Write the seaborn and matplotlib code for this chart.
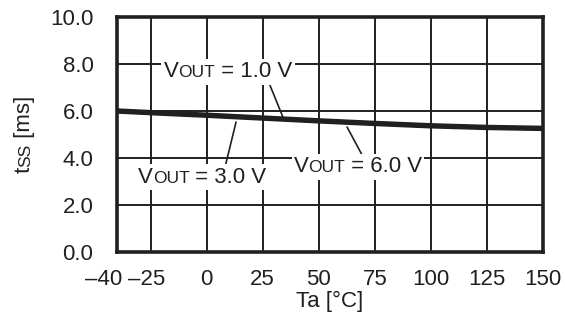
import matplotlib
matplotlib.use("Agg")
import matplotlib.pyplot as plt
import matplotlib.transforms as mtransforms
import seaborn as sns
import pandas as pd
from matplotlib.offsetbox import TextArea, HPacker, AnnotationBbox

# ---- data ----
temps = [-40, -25, 0, 25, 50, 75, 100, 125, 150]
tss_1v0 = [6.03, 5.96, 5.85, 5.73, 5.61, 5.50, 5.40, 5.33, 5.29]
tss_3v0 = [6.00, 5.93, 5.82, 5.70, 5.58, 5.47, 5.37, 5.30, 5.26]
tss_6v0 = [5.97, 5.90, 5.79, 5.67, 5.55, 5.44, 5.34, 5.27, 5.23]
series_names = ["1.0", "3.0", "6.0"]
x_ticks = [-40, -25, 0, 25, 50, 75, 100, 125, 150]
y_ticks = [0.0, 2.0, 4.0, 6.0, 8.0, 10.0]

# label placement (box center) and leader line (start, end) in data coords
label_pos = {"1.0": (9.5, 7.66), "3.0": (-2.0, 3.19), "6.0": (67.5, 3.62)}
leaders = {"1.0": ((28.2, 7.1), (34.0, 5.74)),
           "3.0": ((13.1, 5.53), (8.2, 3.62)),
           "6.0": ((62.6, 5.32), (69.3, 4.13))}

INK = "#231f20"
FS = 16
FS_SMALL = 12.5

sns.set_style("white")
plt.rcParams["font.family"] = ["Liberation Sans", "DejaVu Sans"]

df = pd.DataFrame({
    "Ta": temps * 3,
    "tss": tss_1v0 + tss_3v0 + tss_6v0,
    "Vout": sum([[n] * len(temps) for n in series_names], []),
})

fig = plt.figure(figsize=(5.65, 3.22), dpi=100)
ax = fig.add_axes([117 / 565, 1 - 252 / 322, (543 - 117) / 565, (252 - 17) / 322])

sns.lineplot(data=df, x="Ta", y="tss", units="Vout", estimator=None,
             color=INK, lw=2.9, ax=ax, zorder=3, legend=False)

ax.set_xlim(-40, 150)
ax.set_ylim(0, 10)
ax.set_xticks(x_ticks)
ax.set_xticklabels([("\u2013" + str(abs(t))) if t < 0 else str(t) for t in x_ticks])
ax.set_yticks(y_ticks)
ax.set_yticklabels([f"{v:.1f}" for v in y_ticks])
ax.tick_params(axis="both", length=0, labelsize=FS, colors=INK)
ax.tick_params(axis="y", pad=17)
ax.tick_params(axis="x", pad=12)
ax.grid(True, color=INK, lw=1.4, zorder=0.5)
ax.set_axisbelow(True)
for s in ax.spines.values():
    s.set_visible(True)
    s.set_color(INK)
    s.set_linewidth(2.6)

# shift the crowded negative labels left
shifts = {0: -13, 1: -4}
for i, lab in enumerate(ax.get_xticklabels()):
    if i in shifts:
        off = mtransforms.ScaledTranslation(shifts[i] / 100, 0, fig.dpi_scale_trans)
        lab.set_transform(lab.get_transform() + off)

ax.set_xlabel("Ta [\u00b0C]", fontsize=FS, color=INK, labelpad=1)
ax.set_ylabel("")

# leader lines
for n in series_names:
    (x0, y0), (x1, y1) = leaders[n]
    ax.plot([x0, x1], [y0, y1], color=INK, lw=1.2, zorder=2)

# labels V_OUT with small caps on baseline
for n in series_names:
    parts = [TextArea("V", textprops=dict(size=FS, color=INK)),
             TextArea("OUT", textprops=dict(size=FS_SMALL, color=INK)),
             TextArea(f" = {n} V", textprops=dict(size=FS, color=INK))]
    pack = HPacker(children=parts, align="baseline", pad=0, sep=0)
    ab = AnnotationBbox(pack, label_pos[n], xycoords="data", frameon=True,
                        pad=0.15, box_alignment=(0.5, 0.5),
                        bboxprops=dict(facecolor="white", edgecolor="none"))
    ab.set_zorder(4)
    ax.add_artist(ab)

# rotated y label "tSS [ms]"
fig.canvas.draw()
renderer = fig.canvas.get_renderer()
ypieces = [("t", FS), ("SS", FS_SMALL), (" [ms]", FS)]
widths = []
for txt, fs in ypieces:
    t = fig.text(0, 0, txt, fontsize=fs)
    widths.append(t.get_window_extent(renderer).width)
    t.remove()
total = sum(widths)
x_base = 30
y_start = (322 - 134.5) - total / 2  # from bottom, pixels
cum = 0
for (txt, fs), w in zip(ypieces, widths):
    fig.text(x_base / 565, (y_start + cum) / 322, txt, fontsize=fs, color=INK,
             rotation=90, rotation_mode="anchor", ha="left", va="baseline")
    cum += w

fig.savefig("out.png", dpi=100)
